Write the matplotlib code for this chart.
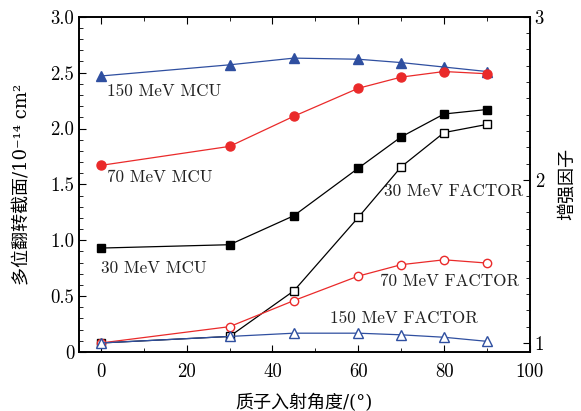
import matplotlib
matplotlib.use("Agg")
import matplotlib.pyplot as plt
from matplotlib.ticker import MultipleLocator, FuncFormatter

plt.rcParams['font.family'] = ['cmr10', 'Noto Sans CJK SC', 'DejaVu Sans']
plt.rcParams['mathtext.fontset'] = 'cm'
plt.rcParams['axes.unicode_minus'] = False

# incidence angle (deg)
angles = [0, 30, 45, 60, 70, 80, 90]

# MCU cross sections (1e-14 cm^2), left axis
mcu_30 = [0.93, 0.96, 1.22, 1.645, 1.925, 2.13, 2.17]
mcu_70 = [1.67, 1.84, 2.11, 2.36, 2.46, 2.51, 2.49]
mcu_150 = [2.47, 2.57, 2.63, 2.62, 2.59, 2.55, 2.51]

# enhancement factor, right axis
fac_30 = [1.0, 1.04, 1.32, 1.77, 2.08, 2.29, 2.34]
fac_70 = [1.0, 1.10, 1.26, 1.41, 1.48, 1.51, 1.49]
fac_150 = [1.0, 1.04, 1.06, 1.06, 1.05, 1.035, 1.01]

red = '#ea2a2a'
blue = '#2f4fa0'
label_font = ['DejaVu Serif', 'Noto Sans CJK SC']

fig = plt.figure(figsize=(5.81, 4.11), dpi=100)
ax = fig.add_axes([0.136, 0.1436, 0.776, 0.8156])
ax2 = ax.twinx()

ax.plot(angles, mcu_150, '-^', color=blue, lw=0.9, ms=7, zorder=3)
ax.plot(angles, mcu_70, '-o', color=red, lw=0.9, ms=6.5, zorder=3)
ax.plot(angles, mcu_30, '-s', color='black', lw=0.9, ms=5.5, zorder=3)

ax2.plot(angles, fac_30, '-s', color='black', mfc='white', lw=0.9, ms=5.5, mew=1)
ax2.plot(angles, fac_70, '-o', color=red, mfc='white', lw=0.9, ms=6, mew=1)
ax2.plot(angles, fac_150, '-^', color=blue, mfc='white', lw=0.9, ms=6.5, mew=1)

ax.set_xlim(-5.1, 100)
ax.set_ylim(0, 3.0)
ax2.set_ylim(1 - 9 / 163, 3)

ax.xaxis.set_major_locator(MultipleLocator(20))
ax.xaxis.set_minor_locator(MultipleLocator(10))
ax.yaxis.set_major_locator(MultipleLocator(0.5))
ax.yaxis.set_minor_locator(MultipleLocator(0.1))
ax2.yaxis.set_major_locator(MultipleLocator(1))
ax2.yaxis.set_minor_locator(MultipleLocator(0.1))
ax.yaxis.set_major_formatter(FuncFormatter(lambda v, p: '0' if v == 0 else f'{v:.1f}'))

ax.tick_params(axis='x', which='both', direction='in', top=True, labelsize=13.5, pad=8)
ax.tick_params(axis='y', which='both', direction='in', right=False, labelsize=13.5)
ax2.tick_params(axis='y', which='both', direction='in', labelsize=13.5)
ax.tick_params(which='major', length=5)
ax.tick_params(which='minor', length=3)
ax2.tick_params(which='major', length=5)
ax2.tick_params(which='minor', length=3)

for a in (ax, ax2):
    for s in a.spines.values():
        s.set_linewidth(1.2)

ax.set_xlabel('质子入射角度/(°)', fontsize=13, family=label_font, labelpad=9)
ax.set_ylabel('多位翻转截面/10⁻¹⁴ cm²', fontsize=13, family=label_font, labelpad=14)
ax2.set_ylabel('增强因子', fontsize=13, family=label_font, labelpad=10)

tc = '#222222'
fs = 12.3
ax.text(1.5, 2.33, '150 MeV MCU', fontsize=fs, color=tc, va='center')
ax.text(1.5, 1.56, '70 MeV MCU', fontsize=fs, color=tc, va='center')
ax.text(0, 0.75, '30 MeV MCU', fontsize=fs, color=tc, va='center')
ax.text(98.5, 1.44, '30 MeV FACTOR', fontsize=fs, color=tc, va='center', ha='right')
ax.text(97.5, 0.63, '70 MeV FACTOR', fontsize=fs, color=tc, va='center', ha='right')
ax.text(53.5, 0.30, '150 MeV FACTOR', fontsize=fs, color=tc, va='center')

fig.savefig('out.png', dpi=100)
